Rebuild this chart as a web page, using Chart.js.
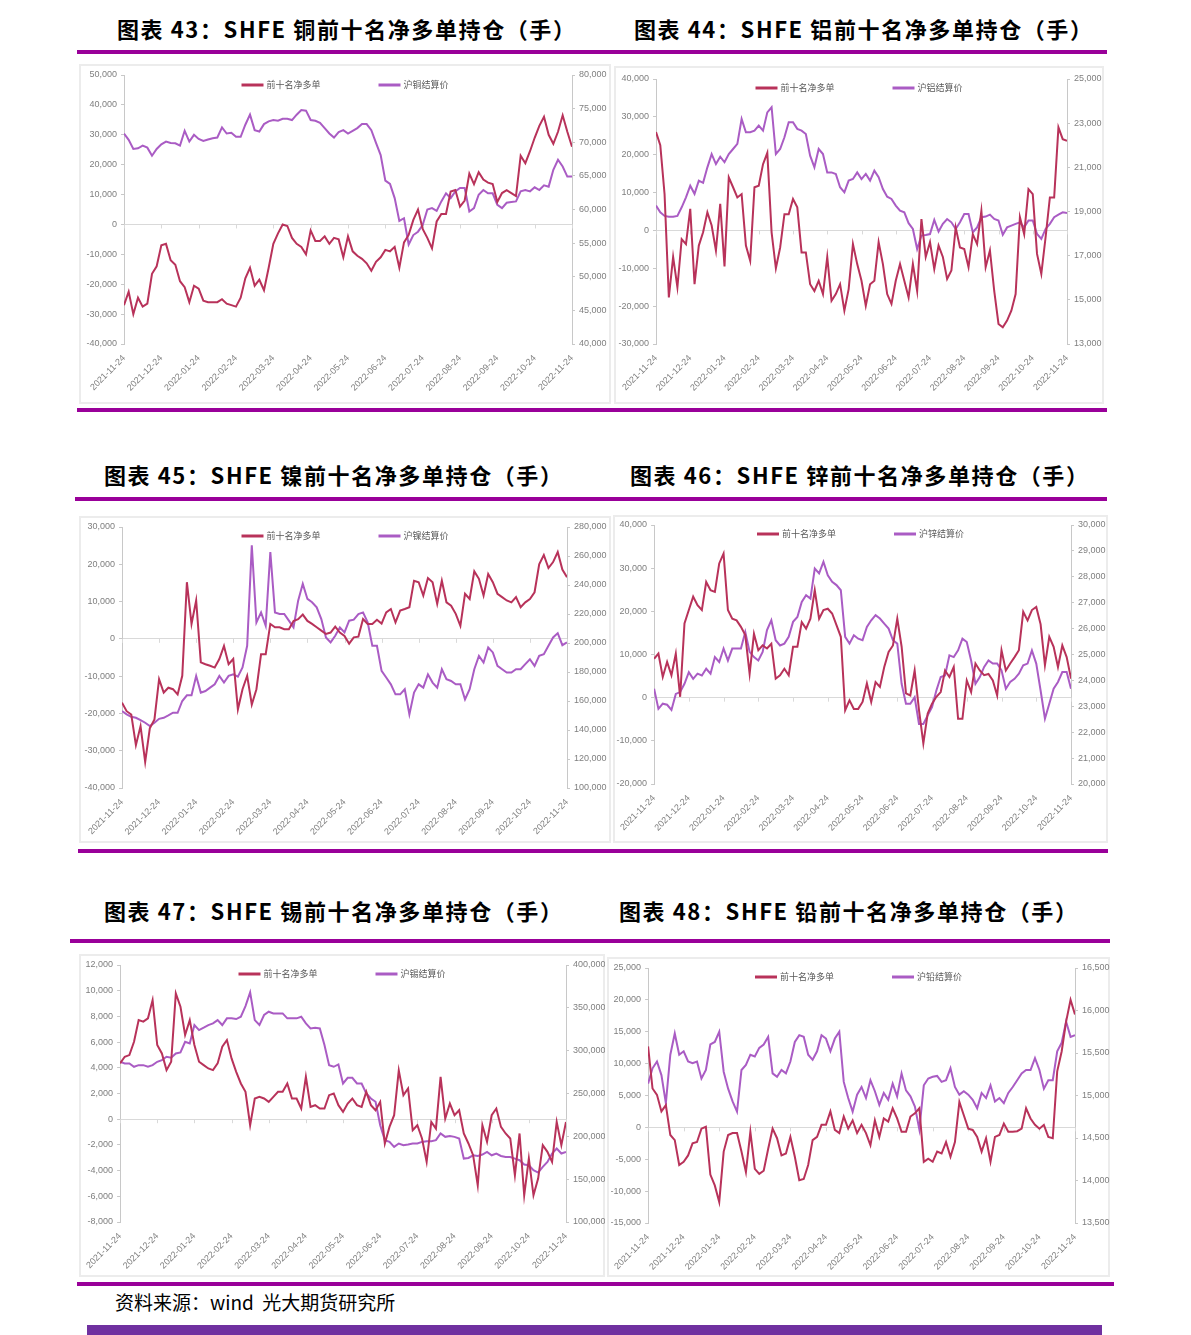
<!DOCTYPE html>
<html>
<head>
<meta charset="utf-8">
<script src="https://cdn.jsdelivr.net/npm/chart.js@4.4.0/dist/chart.umd.min.js"></script>
<style>
  body { margin: 0; width: 1191px; height: 1335px; position: relative; overflow: hidden; background: #fff; font-family: "Noto Sans CJK SC", sans-serif; }
  .title { position: absolute; font-size: 22px; font-weight: 700; color: #000; white-space: nowrap; line-height: 24px; letter-spacing: 1.6px; }
  .rule { position: absolute; height: 4px; background: #990099; }
  .box { position: absolute; border: 2px solid #ececec; box-sizing: border-box; }
  canvas.chart { position: absolute; }
  .source { position: absolute; left: 115px; top: 1290px; font-size: 19px; line-height: 24px; color: #000; white-space: nowrap; }
  .footbar { position: absolute; left: 87px; top: 1325px; width: 1015px; height: 10px; background: #7030a0; }
</style>
</head>
<body>

<div class="title" style="left:117px;top:16px">图表 43：SHFE 铜前十名净多单持仓（手）</div>
<div class="title" style="left:634px;top:16px">图表 44：SHFE 铝前十名净多单持仓（手）</div>
<div class="rule" style="left:77px;top:50px;width:1030px"></div>
<div class="box" style="left:79px;top:64px;width:532px;height:340px"></div>
<div class="box" style="left:614px;top:66px;width:490px;height:338px"></div>
<canvas class="chart" id="c43" width="532" height="340" style="left:79px;top:64px"></canvas>
<canvas class="chart" id="c44" width="490" height="338" style="left:614px;top:66px"></canvas>
<div class="rule" style="left:77px;top:408px;width:1030px"></div>

<div class="title" style="left:104px;top:462px">图表 45：SHFE 镍前十名净多单持仓（手）</div>
<div class="title" style="left:630px;top:462px">图表 46：SHFE 锌前十名净多单持仓（手）</div>
<div class="rule" style="left:75px;top:497px;width:1032px"></div>
<div class="box" style="left:79px;top:516px;width:532px;height:327px"></div>
<div class="box" style="left:613px;top:515px;width:495px;height:328px"></div>
<canvas class="chart" id="c45" width="532" height="327" style="left:79px;top:516px"></canvas>
<canvas class="chart" id="c46" width="495" height="328" style="left:613px;top:515px"></canvas>
<div class="rule" style="left:78px;top:849px;width:1030px"></div>

<div class="title" style="left:104px;top:898px">图表 47：SHFE 锡前十名净多单持仓（手）</div>
<div class="title" style="left:619px;top:898px">图表 48：SHFE 铅前十名净多单持仓（手）</div>
<div class="rule" style="left:70px;top:939px;width:1040px"></div>
<div class="box" style="left:79px;top:954px;width:526px;height:323px"></div>
<div class="box" style="left:607px;top:957px;width:503px;height:320px"></div>
<canvas class="chart" id="c47" width="526" height="323" style="left:79px;top:954px"></canvas>
<canvas class="chart" id="c48" width="503" height="320" style="left:607px;top:957px"></canvas>
<div class="rule" style="left:77px;top:1282px;width:1037px"></div>

<div class="source">资料来源：wind&nbsp; 光大期货研究所</div>
<div class="footbar"></div>

<script>
// ── 数据 ──
const tickLabels = [
  '2021-11-24', '2021-12-24', '2022-01-24', '2022-02-24', '2022-03-24', '2022-04-24', '2022-05-24',
  '2022-06-24', '2022-07-24', '2022-08-24', '2022-09-24', '2022-10-24', '2022-11-24'
];
const netLabel = '前十名净多单';

// 铜
const cuNet = [
  -27000, -22500, -30000, -24500, -27500, -26500, -16500, -14000, -7000, -6500,
  -12000, -13500, -19000, -21000, -26000, -20500, -21500, -25500, -26000, -26000,
  -26000, -25000, -26500, -27000, -27500, -24500, -18000, -14500, -20500, -18500,
  -22000, -14500, -6500, -3000, 0, -500, -4500, -6500, -7500, -10000,
  -2000, -5500, -5500, -4000, -6500, -4500, -5000, -11000, -4000, -9000,
  -10500, -11500, -13000, -15500, -12500, -11000, -8500, -9000, -7500, -14500,
  -6000, -3500, 1500, 5000, -1500, -4500, -8000, 1000, 3500, 3500,
  11000, 11500, 6000, 8000, 17000, 13500, 17500, 15000, 14000, 13500,
  7500, 10500, 11500, 10500, 9500, 23000, 20500, 24500, 29000, 33000,
  36000, 30000, 27000, 31000, 36500, 31000, 26000
];
const cuPrice = [
  71300, 70350, 69000, 69100, 69500, 69200, 68000, 69000, 69700, 70100,
  69900, 69850, 69500, 71700, 70100, 71100, 70500, 70200, 70400, 70600,
  70700, 72200, 71300, 71400, 70800, 70800, 72600, 74100, 71800, 71600,
  72700, 73100, 73300, 73200, 73500, 73500, 73300, 74100, 74800, 74700,
  73300, 73200, 72900, 72100, 71300, 70700, 71500, 71800, 71300, 71700,
  72100, 72700, 72700, 71800, 69900, 68100, 64300, 63800, 61700, 58300,
  58700, 54800, 56200, 56700, 57700, 60000, 60200, 59800, 61200, 62400,
  61700, 62700, 63200, 63200, 59700, 60200, 62200, 62900, 62400, 62400,
  60700, 60200, 61000, 61100, 61200, 62700, 62900, 62700, 63300, 62900,
  63600, 63400, 65900, 67400, 66400, 64900, 64900
];

// 铝
const alNet = [
  26000, 22500, 9600, -17700, -7000, -15000, -2300, -3600, 5700, -14200,
  -4000, -500, 4800, 1300, -5300, 7000, -9500, 14000, 11400, 8700,
  9600, -4000, -8000, 11400, 11800, 17500, 20500, -500, -10000, -4500,
  4300, 4300, 8300, 6100, -5800, -5800, -14200, -16000, -13300, -16800,
  -7000, -18600, -16800, -14200, -21200, -15500, -3600, -8900, -13300, -19900,
  -14200, -13300, -3100, -8900, -16800, -19400, -13300, -8900, -13300, -17700,
  -8900, -16000, 3000, -7000, -3100, -10200, -4000, -7000, -12800, -10600,
  800, -4500, -4900, -9700, -1000, -3600, 5200, -9700, -5300, -16000,
  -24700, -25600, -23800, -21200, -16800, 3500, -1000, 10900, 9600, -6200,
  -11500, -1800, 8700, 8700, 27200, 24100, 23700
];
const alPrice = [
  19270, 18960, 18800, 18760, 18760, 18800, 19190, 19640, 20170, 19800,
  20400, 20300, 21000, 21600, 21150, 21480, 21230, 21600, 21830, 22060,
  23190, 22590, 22590, 22660, 22890, 22660, 23490, 23720, 21600, 21830,
  22360, 23040, 23040, 22740, 22660, 22510, 21530, 21000, 21830, 21600,
  20770, 20770, 20700, 20100, 19870, 20400, 20470, 20770, 20470, 20700,
  20400, 20850, 20550, 20020, 19670, 19570, 19270, 19040, 18960, 18470,
  18210, 17300, 17910, 17940, 17980, 18620, 18090, 18440, 18660, 18510,
  18210, 18510, 18890, 18890, 18060, 18280, 18740, 18770, 18860, 18660,
  18590, 17950, 18280, 18360, 18440, 18510, 18280, 18590, 18590, 17980,
  17760, 18210, 18440, 18740, 18860, 18960, 18930
];

// 镍
const niNet = [
  -17100, -19400, -20300, -28500, -23400, -33000, -24000, -21600, -10800, -14400,
  -13100, -13500, -14900, -9900, 15200, 4000, 10300, -6300, -6800, -7200,
  -7700, -5400, -1900, -6800, -5400, -18900, -13500, -9900, -17600, -13500,
  -4100, -4100, 4000, 3100, 3100, 2600, 2600, 4800, 5300, 6500,
  4800, 4000, 3100, 2200, 1300, 1700, 3300, 1700, 800, -1300,
  400, 600, 5300, 4000, 4000, 5100, 4100, 7100, 8000, 4400,
  7600, 8000, 8500, 15600, 15200, 11600, 16300, 15200, 9400, 15600,
  9800, 8900, 6700, 3500, 12100, 10700, 18100, 16100, 11600, 17400,
  15200, 12100, 11200, 10300, 9800, 11200, 8500, 9800, 10700, 12500,
  20000, 22500, 19000, 20600, 23300, 18600, 16500
];
const niPrice = [
  153000, 150800, 149100, 148400, 146800, 145000, 142700, 145000, 147700, 148400,
  150100, 151900, 151900, 160000, 163900, 163900, 177300, 165800, 166900, 169200,
  171500, 177300, 172700, 177300, 178400, 176800, 183100, 198100, 267300, 214200,
  221100, 211900, 262700, 221100, 220000, 220000, 215400, 210800, 229200, 240800,
  230400, 228100, 224600, 216500, 203800, 200400, 205000, 210800, 207300, 215400,
  216100, 220000, 221100, 214200, 198100, 198100, 180800, 176200, 171500, 164600,
  164600, 168100, 150800, 165800, 171500, 169200, 178400, 172700, 169200, 181900,
  175000, 173800, 171500, 171500, 161100, 168100, 181900, 191100, 186500, 196900,
  193500, 184200, 181900, 179600, 179600, 181900, 181900, 185400, 188800, 184200,
  191100, 192300, 198100, 203800, 206800, 198500, 200400
];

// 锌
const znNet = [
  9000, 10200, 4800, 8300, 5200, 10200, 200, 17200, 20300, 23400,
  21400, 20300, 26800, 24900, 24500, 31100, 33400, 20300, 18300, 17900,
  16400, 14500, 5500, 14800, 11000, 12100, 11400, 12500, 4400, 5200,
  6700, 5200, 11800, 11800, 17500, 16000, 18300, 24900, 18300, 20300,
  20600, 19500, 16800, 14100, -2900, -600, -2600, -2600, -1000, 3300,
  -1000, 3600, 2500, 7100, 10600, 12100, 18300, 11800, 1000, 500,
  6300, -2900, -10600, -3700, -1400, 200, 1300, 6300, 4800, 7100,
  -4900, -4900, 4000, 1300, 7900, 6300, 5200, 5500, 4000, 500,
  11000, 6300, 7900, 9400, 11000, 19900, 17900, 20300, 21000, 17000,
  7500, 14100, 11800, 7100, 12100, 9400, 4400
];
const znPrice = [
  23680, 22900, 23100, 23060, 22860, 23480, 23550, 23870, 24320, 24060,
  24260, 24190, 24450, 24260, 24900, 24710, 25230, 24770, 25230, 25230,
  25230, 25870, 25100, 24900, 24770, 25100, 25940, 26320, 25550, 25350,
  25420, 25680, 26260, 26450, 27030, 27290, 27160, 28320, 28130, 28580,
  28060, 27810, 27680, 27480, 25680, 25420, 25740, 25610, 25550, 26060,
  26320, 26520, 26390, 26190, 26000, 25550, 25420, 23870, 23100, 23100,
  23350, 22320, 22320, 22650, 22970, 23610, 24130, 24190, 24970, 24900,
  25160, 25610, 25480, 24770, 23870, 24130, 24520, 24770, 24650, 24650,
  24390, 23680, 23940, 24060, 24260, 24580, 24650, 25160, 24650, 23610,
  22520, 23100, 23680, 23940, 24320, 24320, 23680
];

// 锡
const snNet = [
  4340, 4860, 4990, 6030, 7710, 7590, 7850, 9270, 5770, 5120,
  3820, 4470, 9790, 8750, 6550, 7710, 5770, 4470, 4210, 3950,
  3820, 4340, 5640, 6160, 4730, 3690, 2780, 2130, -470, 1610,
  1740, 1610, 1350, 1740, 2130, 2130, 2780, 1610, 1610, 830,
  3300, 960, 1090, 830, 830, 1870, 2000, 1090, 570, 1220,
  1610, 1090, 960, 2130, 1090, 700, 1350, -1890, -600, 310,
  3800, 1870, 2390, -860, -470, -1500, -3320, -210, -730, 3300,
  50, 1220, 310, 700, -1110, -1890, -2800, -5140, -470, -1760,
  310, 830, -600, -1110, -1500, -4360, -1110, -5920, -3060, -5920,
  -4620, -2020, -2540, -3320, -210, -2020, -210
];
const snPrice = [
  287000, 285100, 285100, 281200, 283100, 283100, 281200, 283100, 287000, 289000,
  292900, 291700, 296800, 297900, 310400, 308400, 329900, 324000, 326800, 329900,
  331800, 335700, 329900, 337700, 337700, 336900, 339600, 352000, 368000, 335700,
  329900, 341600, 345500, 343500, 343500, 343500, 337700, 337700, 337700, 339600,
  331800, 326000, 326800, 326000, 306500, 283100, 281200, 283900, 261700, 268300,
  268300, 261700, 261700, 250000, 244200, 240300, 213000, 195500, 193500, 187700,
  191600, 189600, 190400, 191600, 191600, 193500, 194300, 194300, 195500, 203300,
  199400, 200500, 199400, 197400, 174000, 174800, 177900, 177100, 178700, 181800,
  177900, 179900, 177100, 175900, 175900, 174000, 172100, 167000, 166200, 160400,
  157700, 164300, 170100, 179900, 185700, 179900, 181800
];

// 铅
const pbNet = [
  12700, 6100, 5100, 2500, 3500, -1200, -2000, -5900, -5400, -4400,
  -2500, -2300, -200, 100, -7400, -9100, -11700, -3800, -1200, -900,
  -900, -3800, -7000, -700, -6500, -7300, -6800, -3400, -200, -1700,
  -4400, -4100, -1500, -4600, -8300, -8100, -5900, -2000, -1500, 400,
  400, 2500, -400, -900, 1700, -200, 1100, -900, 400, -900,
  -2800, 1100, -1500, 1400, 900, 3000, 1400, -700, -700, 1700,
  2200, 3000, -5400, -4900, -5400, -3800, -4100, -2300, -4600, -2300,
  4000, 1900, -200, -400, -1500, -3800, -1700, -5400, -1500, -1200,
  600, -700, -700, -600, -200, 3000, 1400, 400, -200, 400,
  -1500, -1700, 8800, 11900, 16600, 20000, 17700
];
const pbPrice = [
  15140, 15320, 15400, 15240, 14910, 15480, 15730, 15480, 15520, 15400,
  15380, 15400, 15200, 15300, 15600, 15630, 15750, 15280, 15080, 14930,
  14810, 15300, 15360, 15480, 15460, 15560, 15600, 15690, 15260, 15220,
  15300, 15260, 15400, 15630, 15710, 15690, 15480, 15420, 15520, 15710,
  15670, 15520, 15670, 15750, 15160, 14970, 14810, 15010, 15100, 14970,
  15180, 15050, 14890, 15030, 14950, 15140, 14990, 15260, 15060, 14990,
  14870, 14600, 15120, 15200, 15220, 15230, 15160, 15180, 15320, 15100,
  15010, 15050, 15010, 14950, 14850, 15030, 14970, 15120, 14930, 14970,
  14910, 15030, 15100, 15180, 15260, 15300, 15300, 15440, 15300, 15080,
  15180, 15180, 15520, 15620, 15870, 15690, 15710
];

// ── 样式 ──
const RED = '#b8325a';
const PURPLE = '#aa5cc4';
const TICK_FONT = { family: '"Liberation Sans", sans-serif', size: 9 };
const TICK_COLOR = '#7f7f7f';
const AXIS_COLOR = '#c8c8c8';

// 图例画在绘图区里面（原图就是这样叠在上面的）
const innerLegend = {
  id: 'innerLegend',
  afterDraw(chart, args, opts) {
    const ctx = chart.ctx;
    const sw = 22, gap = 3, space = 58;
    ctx.save();
    ctx.font = '9px "Noto Sans CJK SC"';
    const items = chart.data.datasets.map(ds => ({
      label: ds.label, color: ds.borderColor,
      w: sw + gap + ctx.measureText(ds.label).width,
    }));
    const total = items.reduce((s, it) => s + it.w, 0) + space * (items.length - 1);
    let x = (chart.width - total) / 2;
    items.forEach(it => {
      ctx.strokeStyle = it.color;
      ctx.lineWidth = 3;
      ctx.beginPath();
      ctx.moveTo(x, opts.y);
      ctx.lineTo(x + sw, opts.y);
      ctx.stroke();
      ctx.fillStyle = '#595959';
      ctx.textAlign = 'left';
      ctx.textBaseline = 'middle';
      ctx.fillText(it.label, x + sw + gap, opts.y);
      x += it.w + space;
    });
    ctx.restore();
  },
};

// 零轴上的小刻度
const zeroTicks = {
  id: 'zeroTicks',
  beforeDatasetsDraw(chart) {
    const xs = chart.scales.x, ys = chart.scales.y;
    const y0 = ys.getPixelForValue(0);
    const ctx = chart.ctx;
    ctx.save();
    ctx.strokeStyle = '#d9d9d9';
    ctx.lineWidth = 1;
    xs.ticks.forEach(t => {
      const px = Math.round(xs.getPixelForValue(t.value)) + 0.5;
      ctx.beginPath();
      ctx.moveTo(px, y0);
      ctx.lineTo(px, y0 + 4);
      ctx.stroke();
    });
    ctx.restore();
  },
};

const fmt = v => v.toLocaleString('en-US');

function makeChart(c) {
  const toPoints = arr => arr.map((v, i) => ({ x: i * 12 / (arr.length - 1), y: v }));
  const [padL, padR, padT, padB] = c.pad;
  return new Chart(document.getElementById(c.id), {
    type: 'line',
    data: {
      datasets: [
        { label: netLabel, data: toPoints(c.net), yAxisID: 'y', borderColor: RED, backgroundColor: RED, borderWidth: 2, pointRadius: 0 },
        { label: c.priceLabel, data: toPoints(c.price), yAxisID: 'y1', borderColor: PURPLE, backgroundColor: PURPLE, borderWidth: 2, pointRadius: 0 },
      ],
    },
    options: {
      responsive: false,
      animation: false,
      devicePixelRatio: 1,
      layout: { padding: { top: padT, left: 0, right: 0, bottom: 0 } },
      plugins: { legend: { display: false }, tooltip: { enabled: false }, innerLegend: { y: c.legendY } },
      scales: {
        x: {
          type: 'linear', min: 0, max: 12,
          grid: { display: false, drawTicks: false },
          border: { display: false },
          ticks: {
            stepSize: 1, autoSkip: false, maxRotation: 45, minRotation: 45, padding: 9,
            font: TICK_FONT, color: TICK_COLOR,
            callback: v => tickLabels[v] ?? '',
          },
          afterFit: s => { s.height = padB; },
        },
        y: {
          position: 'left', min: c.left[0], max: c.left[1],
          ticks: { stepSize: c.left[2], font: TICK_FONT, color: TICK_COLOR, padding: 4, callback: fmt },
          grid: {
            color: ctx => (ctx.tick && ctx.tick.value === 0 ? '#d9d9d9' : 'rgba(0,0,0,0)'),
            tickColor: AXIS_COLOR, tickLength: 3,
          },
          border: { color: AXIS_COLOR },
          afterFit: s => { s.width = padL; },
        },
        y1: {
          position: 'right', min: c.right[0], max: c.right[1],
          ticks: { stepSize: c.right[2], font: TICK_FONT, color: TICK_COLOR, padding: 4, callback: fmt },
          grid: { drawOnChartArea: false, tickColor: AXIS_COLOR, tickLength: 3 },
          border: { color: AXIS_COLOR },
          afterFit: s => { s.width = padR; },
        },
      },
    },
    plugins: [innerLegend, zeroTicks],
  });
}

[
  { id: 'c43', net: cuNet, price: cuPrice, priceLabel: '沪铜结算价', left: [-40000, 50000, 10000], right: [40000, 80000, 5000], pad: [45, 39, 11, 60], legendY: 21 },
  { id: 'c44', net: alNet, price: alPrice, priceLabel: '沪铝结算价', left: [-30000, 40000, 10000], right: [13000, 25000, 2000], pad: [42, 37, 13, 60], legendY: 22 },
  { id: 'c45', net: niNet, price: niPrice, priceLabel: '沪镍结算价', left: [-40000, 30000, 10000], right: [100000, 280000, 20000], pad: [43, 44, 11, 55], legendY: 20 },
  { id: 'c46', net: znNet, price: znPrice, priceLabel: '沪锌结算价', left: [-20000, 40000, 10000], right: [20000, 30000, 1000], pad: [41, 37, 10, 59], legendY: 19 },
  { id: 'c47', net: snNet, price: snPrice, priceLabel: '沪锡结算价', left: [-8000, 12000, 2000], right: [100000, 400000, 50000], pad: [38, 39, 11, 55], legendY: 20 },
  { id: 'c48', net: pbNet, price: pbPrice, priceLabel: '沪铅结算价', left: [-15000, 25000, 5000], right: [13500, 16500, 500], pad: [37, 35, 11, 54], legendY: 20 },
].forEach(makeChart);
</script>
</body>
</html>
